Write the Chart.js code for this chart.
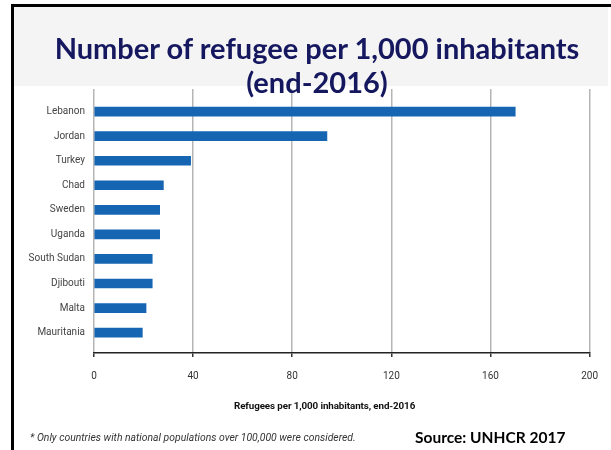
<!DOCTYPE html>
<html>
<head>
<meta charset="utf-8">
<script src="https://cdn.jsdelivr.net/npm/chart.js@4"></script>
<style>
  html, body { margin: 0; padding: 0; background: #fff; }
  #slide { position: relative; width: 611px; height: 450px; overflow: hidden; }
  #frame { position: absolute; left: 11px; top: 4px; width: 700px; height: 600px; border: 3px solid #000; }
  #titleBg { position: absolute; left: 14px; top: 7px; width: 594px; height: 79px; background: #f4f4f4; }
  #title { position: absolute; left: 14px; top: 31px; width: 606px; text-align: center;
           font: 700 29px Lato, sans-serif; line-height: 34px; color: #15185f; z-index: 3; }
  #chart { position: absolute; left: 0; top: 0; z-index: 2; }
  .txt { position: absolute; z-index: 3; white-space: nowrap; }
  #axisTitle { left: 234px; top: 400px; font: 700 9.8px Roboto, sans-serif; color: #111; letter-spacing: -0.1px; }
  #note { left: 30px; top: 431px; font: italic 10.4px Roboto, sans-serif; color: #333; }
  #source { left: 415px; top: 428px; font: 700 15.5px Lato, sans-serif; color: #000; }
</style>
</head>
<body>
<div id="slide">
  <div id="frame"></div>
  <div id="titleBg"></div>
  <canvas id="chart" width="611" height="450"></canvas>
  <div id="title">Number of refugee per 1,000 inhabitants<br>(end-2016)</div>
  <div class="txt" id="axisTitle">Refugees per 1,000 inhabitants, end-2016</div>
  <div class="txt" id="note">* Only countries with national populations over 100,000 were considered.</div>
  <div class="txt" id="source">Source: UNHCR 2017</div>
</div>
<script>
  // values
  const countries = ['Lebanon', 'Jordan', 'Turkey', 'Chad', 'Sweden', 'Uganda', 'South Sudan', 'Djibouti', 'Malta', 'Mauritania'];
  const refugeesPer1000 = [170, 94, 39, 28, 26.5, 26.5, 23.5, 23.5, 21, 19.5];
  const xTicks = [0, 40, 80, 120, 160, 200];

  const points = countries.map((c, i) => ({ x: refugeesPer1000[i], y: i }));

  new Chart(document.getElementById('chart'), {
    type: 'bar',
    data: {
      datasets: [{
        label: 'Refugees per 1,000 inhabitants',
        data: points,
        backgroundColor: '#1565b3',
        borderWidth: 0,
        barThickness: 9
      }]
    },
    options: {
      indexAxis: 'y',
      responsive: false,
      animation: false,
      layout: { padding: { left: 14, right: 20, top: 89, bottom: 0 } },
      plugins: { legend: { display: false }, tooltip: { enabled: false } },
      scales: {
        x: {
          type: 'linear',
          min: xTicks[0],
          max: xTicks[xTicks.length - 1],
          afterFit: s => { s.height = 97; },
          afterBuildTicks: s => { s.ticks = xTicks.map(v => ({ value: v })); },
          grid: { color: '#b5b5b5', lineWidth: 1.5, tickLength: 4, tickColor: '#333' },
          border: { display: true, color: '#222', width: 1.5 },
          ticks: { padding: 13, color: '#333', font: { family: 'Roboto, sans-serif', size: 10 } }
        },
        y: {
          type: 'linear',
          reverse: true,
          offset: false,
          min: -0.92,
          max: 9.83,
          afterFit: s => { s.width = 80; },
          afterBuildTicks: s => { s.ticks = countries.map((c, i) => ({ value: i })); },
          grid: { display: false, drawTicks: false, offset: false },
          border: { display: false },
          ticks: {
            padding: 9,
            color: '#444',
            font: { family: 'Roboto, sans-serif', size: 10 },
            callback: v => countries[v]
          }
        }
      }
    }
  });
</script>
</body>
</html>
